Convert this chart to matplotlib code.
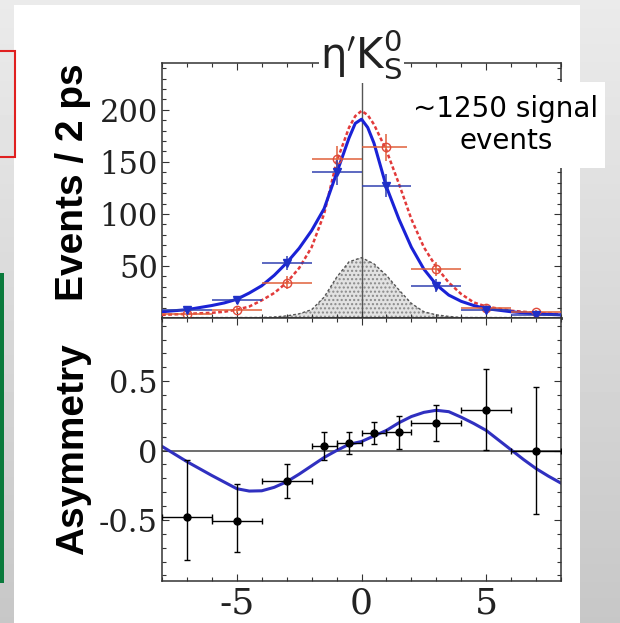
import numpy as np
import matplotlib.pyplot as plt
from matplotlib.patches import Rectangle
from matplotlib.ticker import MultipleLocator, FixedLocator

plt.rcParams['axes.unicode_minus'] = False
plt.rcParams['mathtext.fontset'] = 'dejavusans'

# top panel: events / 2 ps for the two flavour tags
bin_x = [-7, -5, -3, -1, 1, 3, 5, 7]
bin_half = [1, 1, 1, 1, 1, 1, 1, 1]
blue_n = [8, 17, 53, 140, 127, 31, 8, 3]
blue_err = [3, 4, 7, 12, 11, 6, 3, 2]
red_n = [4, 8, 34, 153, 164, 47, 10, 6]
red_err = [2, 3, 6, 12, 13, 7, 3, 2]

curve_x = [-8, -7, -6, -5.5, -5, -4.5, -4, -3.5, -3, -2.5, -2, -1.5, -1, -0.5, -0.25,
           0, 0.25, 0.5, 1, 1.5, 2, 2.5, 3, 3.5, 4, 4.5, 5, 6, 7, 8]
blue_curve = [6, 8, 12, 14.5, 18, 24, 31, 41, 53, 67, 84, 105, 139, 173, 187,
              191, 183, 168, 126, 95, 68, 47, 32, 22, 16, 12, 9, 6, 4, 3]
red_curve = [3, 4, 5, 6, 8, 11, 17, 24, 34, 48, 68, 100, 150, 183, 194,
             199, 195, 186, 161, 129, 95, 68, 49, 34, 23, 15, 11, 7, 5, 3.5]

bkg_x = [-8, -4, -3.5, -3, -2.5, -2, -1.5, -1, -0.5, 0, 0.5, 1, 1.5, 2, 2.5, 3, 3.5, 4, 8]
bkg_y = [0.3, 0.5, 1, 2, 4, 8, 20, 39, 54, 58, 52, 41, 27, 14, 6, 3, 1.5, 0.5, 0.3]

# bottom panel: asymmetry
asym_x = [-7, -5, -3, -1.5, -0.5, 0.5, 1.5, 3, 5, 7]
asym_xerr = [1, 1, 1, 0.5, 0.5, 0.5, 0.5, 1, 1, 1]
asym_y = [-0.48, -0.51, -0.22, 0.03, 0.055, 0.125, 0.13, 0.2, 0.295, 0.0]
asym_lo = [0.31, 0.22, 0.12, 0.1, 0.08, 0.08, 0.12, 0.13, 0.29, 0.46]
asym_hi = [0.41, 0.27, 0.12, 0.1, 0.08, 0.08, 0.12, 0.13, 0.29, 0.46]

asym_cx = [-8, -7, -6, -5, -4.5, -4, -3.5, -3, -2.5, -2, -1.5, -1, -0.5, 0, 0.5,
           1, 1.5, 2, 2.5, 3, 3.5, 4, 4.5, 5, 5.5, 6, 6.5, 7, 7.5, 8]
asym_cy = [0.03, -0.08, -0.18, -0.275, -0.292, -0.29, -0.265, -0.225, -0.17, -0.11,
           -0.05, 0.0, 0.045, 0.065, 0.105, 0.145, 0.2, 0.245, 0.275, 0.29,
           0.28, 0.24, 0.195, 0.145, 0.075, 0.005, -0.065, -0.13, -0.185, -0.235]

W, H = 620, 623
fig = plt.figure(figsize=(W / 100, H / 100), dpi=100)

# slide background
bg = fig.add_axes([0, 0, 1, 1], zorder=-10)
grad = np.linspace(0.92, 0.78, 200).reshape(-1, 1)
bg.imshow(grad, cmap='gray', vmin=0, vmax=1, extent=[0, W, H, 0], aspect='auto')
bg.add_patch(Rectangle((14, 5), 566, 640, facecolor='white', edgecolor='none'))
bg.add_patch(Rectangle((-5, 51), 20, 106, facecolor='none', edgecolor='#e02020', lw=1.5))
bg.add_patch(Rectangle((0, 273), 3.5, 310, facecolor='#0a7a3c', edgecolor='none'))
bg.set_xlim(0, W)
bg.set_ylim(H, 0)
bg.axis('off')

def fx(px):
    return px / W

def fy(py):
    return 1 - py / H

left, right = 162, 561
ax1 = fig.add_axes([fx(left), fy(318), fx(right) - fx(left), fy(63) - fy(318)])
ax2 = fig.add_axes([fx(left), fy(581), fx(right) - fx(left), fy(318) - fy(581)], sharex=ax1)

# top panel
ax1.fill_between(bkg_x, bkg_y, color='#e2e2e2', hatch='....', edgecolor='#8a8a8a', lw=0, zorder=1)
ax1.plot(bkg_x, bkg_y, color='#555555', lw=1, ls=(0, (2, 1.5)), zorder=1.2)
ax1.axvline(0, color='#555555', lw=1, zorder=1.5)
ax1.plot(curve_x, red_curve, color='#e23a3a', lw=1.8, ls=(0, (1.5, 1)), zorder=3)
ax1.plot(curve_x, blue_curve, color='#1a22d6', lw=2.2, zorder=3.5)
ax1.errorbar(bin_x, red_n, xerr=bin_half, yerr=red_err, fmt='o', mfc='none', mec='#e04a3a',
             ecolor='#e0603a', ms=6, elinewidth=1.1, capsize=0, zorder=4)
ax1.errorbar(bin_x, blue_n, xerr=bin_half, yerr=blue_err, fmt='v', color='#2030c8',
             ecolor='#3040b0', ms=6, elinewidth=1.1, capsize=0, zorder=4.5)
ax1.set_xlim(-8, 8)
ax1.set_ylim(0, 245)
ax1.yaxis.set_major_locator(FixedLocator([50, 100, 150, 200]))
ax1.yaxis.set_minor_locator(MultipleLocator(10))
ax1.tick_params(axis='x', labelbottom=False)

# bottom panel
ax2.axhline(0, color='#555555', lw=1.2, zorder=1)
ax2.plot(asym_cx, asym_cy, color='#3030c0', lw=2.2, zorder=2)
ax2.errorbar(asym_x, asym_y, xerr=asym_xerr, yerr=[asym_lo, asym_hi], fmt='o', color='black',
             ms=5, elinewidth=1, capsize=2, capthick=1, zorder=3)
ax2.set_ylim(-0.94, 0.955)
ax2.yaxis.set_major_locator(FixedLocator([-0.5, 0, 0.5]))
ax2.yaxis.set_minor_locator(MultipleLocator(0.1))
ax2.xaxis.set_major_locator(MultipleLocator(5))
ax2.xaxis.set_minor_locator(MultipleLocator(1))
ax2.set_yticklabels(['-0.5', '0', '0.5'])

for ax in (ax1, ax2):
    ax.tick_params(which='both', direction='in', top=True, right=True, width=0.8, color='#333333')
    ax.tick_params(which='major', length=5)
    ax.tick_params(which='minor', length=3)
    ax.tick_params(axis='y', labelsize=22, pad=3)
    ax.tick_params(axis='x', labelsize=26, pad=4)
    for lab in ax.get_xticklabels() + ax.get_yticklabels():
        lab.set_family('DejaVu Serif')
        lab.set_color('#222222')
    for sp in ax.spines.values():
        sp.set_color('#333333')
        sp.set_linewidth(1.1)
ax1.spines['bottom'].set_linewidth(2)

# axis titles
fig.text(fx(73), fy(182), 'Events / 2 ps', rotation=90, ha='center', va='center',
         fontsize=28, fontweight='bold', family='Liberation Sans')
fig.text(fx(73), fy(449), 'Asymmetry', rotation=90, ha='center', va='center',
         fontsize=28, fontweight='bold', family='Liberation Sans')

# channel label breaking the top frame
ax1.text(0, 0.98, r'$\mathrm{\eta}^{\prime}\mathrm{K}^{0}_{\mathrm{S}}$',
         transform=ax1.get_xaxis_transform(),
         ha='center', va='baseline', fontsize=30, color='#222222',
         bbox=dict(facecolor='white', edgecolor='none', pad=1), zorder=6)

# annotation box
fig.add_artist(Rectangle((fx(407), fy(168)), fx(605) - fx(407), fy(82) - fy(168),
                         transform=fig.transFigure, facecolor='white', edgecolor='none', zorder=5))
fig.text(fx(506), fy(125), '~1250 signal\nevents', ha='center', va='center',
         multialignment='center', fontsize=20, family='DejaVu Sans', linespacing=1.15, zorder=6)

fig.savefig('out.png', dpi=100)
